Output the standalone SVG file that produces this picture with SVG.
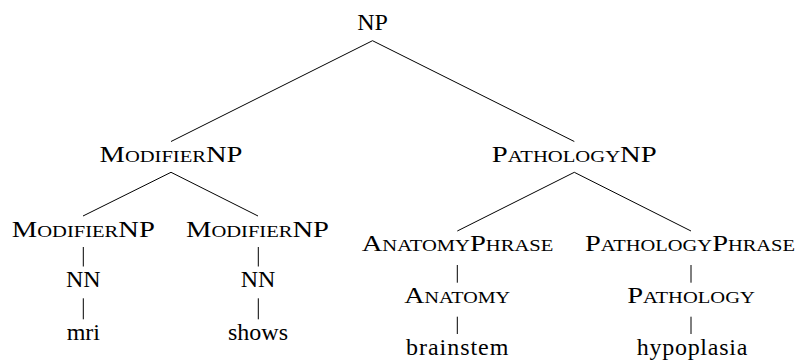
<svg xmlns="http://www.w3.org/2000/svg" width="800" height="361" viewBox="0 0 800 361">
<style>
text{font-family:"Liberation Serif",Tinos,"Noto Serif","DejaVu Serif",Times,"FreeSerif","Nimbus Roman","Noto Serif CJK SC",serif;font-size:24px;fill:#000;text-anchor:middle}
.sc{font-size:17.3px}
.e{stroke:#000;stroke-width:1;fill:none}
</style>
<rect width="800" height="361" fill="#fff"/>
<g id="connectors">
<path class="e" d="M372.5,40.7 L171,141.5 M372.5,40.7 L574.3,141.5"/>
<path class="e" d="M171,172.3 L83,216 M171,172.3 L258,216"/>
<path class="e" d="M574.3,172.3 L457.3,231 M574.3,172.3 L691,231"/>
<path class="e" d="M83.3,247 V266.5 M83.3,298.3 V319.3"/>
<path class="e" d="M258.3,247 V266.5 M258.3,298.3 V319.3"/>
<path class="e" d="M457.3,265 V282.7 M457.3,316.7 V334"/>
<path class="e" d="M691,265 V282.7 M691,316.7 V334"/>
</g>
<g id="np"><text x="372.5" y="30">NP</text></g>
<g id="modnp"><text x="171" y="162" textLength="143" lengthAdjust="spacingAndGlyphs">M<tspan class="sc">ODIFIER</tspan>NP</text></g>
<g id="pathnp"><text x="574.2" y="162" textLength="165" lengthAdjust="spacingAndGlyphs">P<tspan class="sc">ATHOLOGY</tspan>NP</text></g>
<g id="modnp1"><text x="83.3" y="236.5" textLength="143" lengthAdjust="spacingAndGlyphs">M<tspan class="sc">ODIFIER</tspan>NP</text></g>
<g id="modnp2"><text x="257.5" y="236.5" textLength="143" lengthAdjust="spacingAndGlyphs">M<tspan class="sc">ODIFIER</tspan>NP</text></g>
<g id="anaphrase"><text x="457.5" y="251" textLength="191.6" lengthAdjust="spacingAndGlyphs">A<tspan class="sc">NATOMY</tspan>P<tspan class="sc">HRASE</tspan></text></g>
<g id="pathphrase"><text x="690" y="251" textLength="210" lengthAdjust="spacingAndGlyphs">P<tspan class="sc">ATHOLOGY</tspan>P<tspan class="sc">HRASE</tspan></text></g>
<g id="nn1"><text x="83.3" y="287">NN</text></g>
<g id="nn2"><text x="258" y="287">NN</text></g>
<g id="anatomy"><text x="457.2" y="303.3" textLength="105.7" lengthAdjust="spacingAndGlyphs">A<tspan class="sc">NATOMY</tspan></text></g>
<g id="pathology"><text x="691" y="303.3" textLength="127.7" lengthAdjust="spacingAndGlyphs">P<tspan class="sc">ATHOLOGY</tspan></text></g>
<g id="mri"><text x="83.3" y="340">mri</text></g>
<g id="shows"><text x="258" y="340">shows</text></g>
<g id="brainstem"><text x="457.2" y="355" textLength="102.3" lengthAdjust="spacing">brainstem</text></g>
<g id="hypoplasia"><text x="692" y="355" textLength="110.6" lengthAdjust="spacing">hypoplasia</text></g>
</svg>
